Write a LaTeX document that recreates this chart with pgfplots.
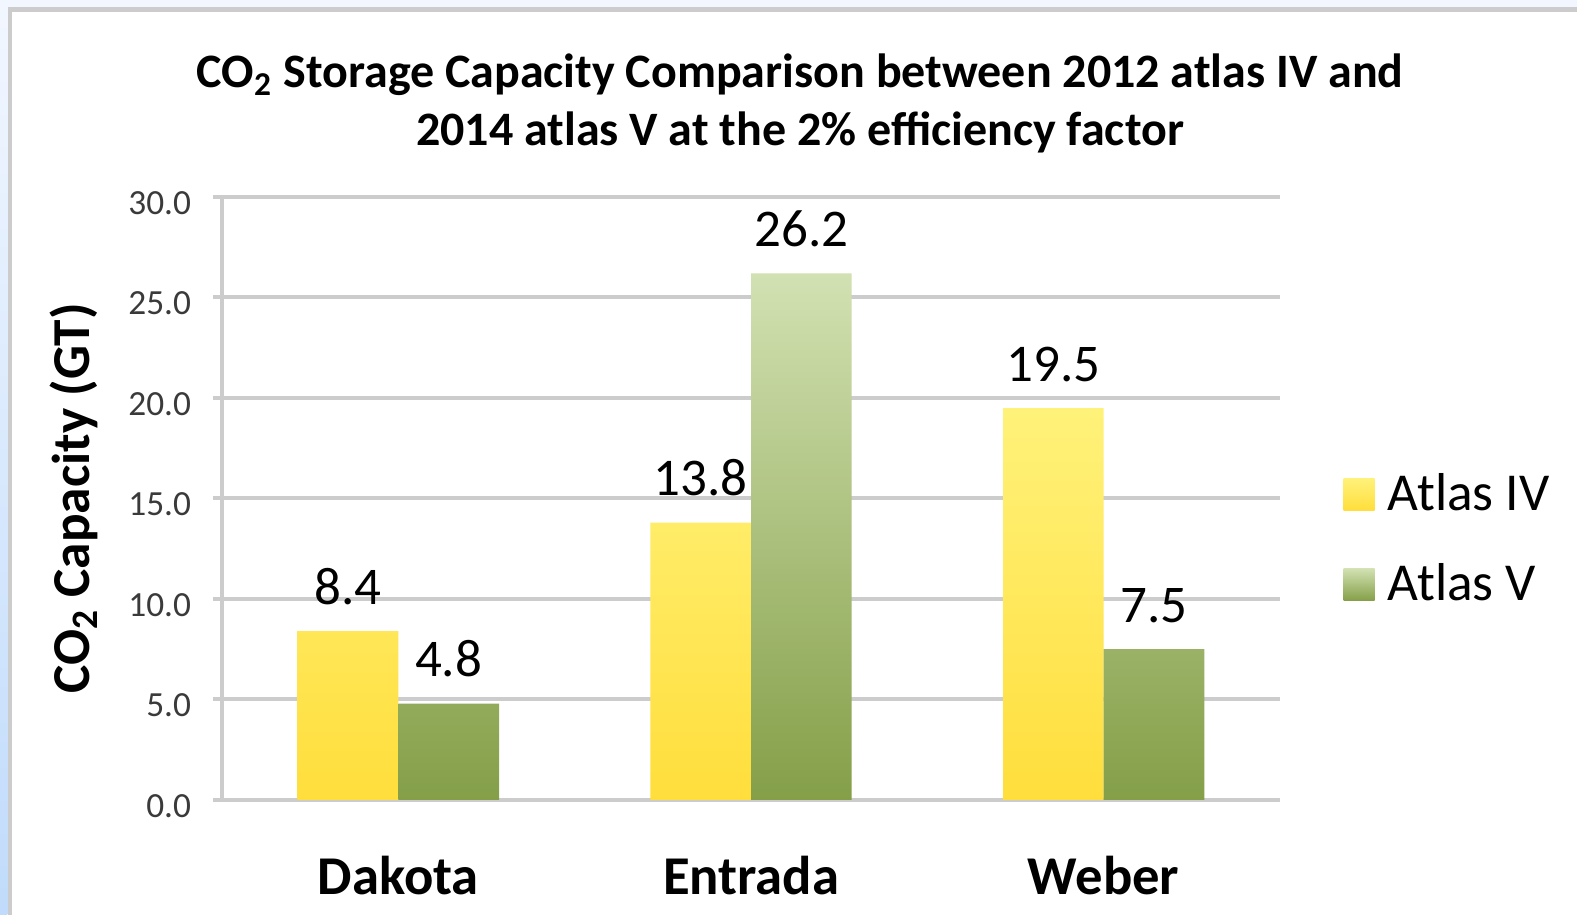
\documentclass[border=0pt]{standalone}
\usepackage{fontspec}
\setmainfont{Carlito}
\usepackage{pgfplots}
\pgfplotsset{compat=1.18}
\definecolor{gridgray}{HTML}{CCCCCC}
\definecolor{ticktext}{HTML}{3A3A3A}
\definecolor{yeltop}{HTML}{FFF27A}
\definecolor{yelbot}{HTML}{FFDE3C}
\definecolor{grntop}{HTML}{D2E1B2}
\definecolor{grnbot}{HTML}{849F48}
\definecolor{stripblue}{HTML}{C0DBFB}
\definecolor{stripltop}{HTML}{F2F7FF}
\begin{document}
\begin{tikzpicture}
\useasboundingbox (0,0) rectangle (473.1pt,274.5pt);
% background and frame
\fill[white] (0,0) rectangle (473.1pt,274.5pt);
\fill[stripltop] (0,272.4pt) rectangle (473.1pt,274.5pt);
\shade[top color=stripltop, bottom color=stripblue] (0,0) rectangle (2.2pt,274.5pt);
\draw[gridgray, line width=1.4pt] (3.0pt,0) -- (3.0pt,271.6pt) -- (473.1pt,271.6pt);
% title
\node[anchor=base, font=\fontsize{14.4}{17}\selectfont\bfseries] at (240pt,248.1pt) {CO\textsubscript{2} Storage Capacity Comparison between 2012 atlas IV and};
\node[anchor=base, font=\fontsize{14.4}{17}\selectfont\bfseries] at (240pt,230.7pt) {2014 atlas V at the 2\% efficiency factor};
\begin{axis}[
  at={(66.6pt,34.5pt)}, anchor=south west,
  scale only axis, width=317.4pt, height=180.9pt,
  xmin=-0.5, xmax=2.5, ymin=0, ymax=30,
  xtick=data, xticklabels={Dakota, Entrada, Weber},
  ytick={0,5,...,30},
  axis lines*=left,
  axis line style={-, draw=gridgray, line width=1.4pt},
  ymajorgrids, grid style={draw=gridgray, line width=1.2pt},
  tick align=outside, major tick length=2.7pt,
  xtick style={draw=none},
  ytick style={draw=gridgray, line width=1.2pt},
  /pgf/number format/assume math mode=true,
  yticklabel={\pgfmathprintnumber[fixed, fixed zerofill, precision=1]{\tick}},
  yticklabel style={font=\fontsize{10.6}{12}\selectfont, text=ticktext, inner sep=0pt, xshift=-6.4pt, yshift=-1.8pt},
  xticklabel style={font=\fontsize{16.4}{19}\selectfont\bfseries, anchor=base, inner sep=0pt, yshift=-25.6pt},
  ylabel={CO\textsubscript{2} Capacity (GT)},
  every axis y label/.style={at={(axis description cs:-0.1257,0.5)}, rotate=90, anchor=base, font=\fontsize{16}{19}\selectfont\bfseries},
  ybar=0pt, bar width=30.2pt,
  nodes near coords={\pgfmathprintnumber[fixed, fixed zerofill, precision=1, assume math mode=true]{\pgfplotspointmeta}},
  nodes near coords style={font=\fontsize{15.9}{18}\selectfont, text=black, anchor=base, inner sep=0pt, yshift=8.1pt},
  legend style={at={(1.0595,0.432)}, anchor=west, draw=none, fill=none, inner sep=0pt, row sep=13.3pt, font=\fontsize{16}{19}\selectfont, nodes={inner sep=0.6pt}, /tikz/every odd column/.append style={column sep=3.3pt}},
  legend cell align=left,
]
\addplot[draw=none, top color=yeltop, bottom color=yelbot,
  legend image code/.code={\path[top color=yeltop, bottom color=yelbot] (0pt,-4.8pt) rectangle (9.3pt,4.8pt);}]
  coordinates {(0,8.4) (1,13.8) (2,19.5)};
\addlegendentry{Atlas IV}
\addplot[draw=none, top color=grntop, bottom color=grnbot,
  legend image code/.code={\path[top color=grntop, bottom color=grnbot] (0pt,-4.8pt) rectangle (9.3pt,4.8pt);}]
  coordinates {(0,4.8) (1,26.2) (2,7.5)};
\addlegendentry{Atlas V}
\end{axis}
\end{tikzpicture}
\end{document}
